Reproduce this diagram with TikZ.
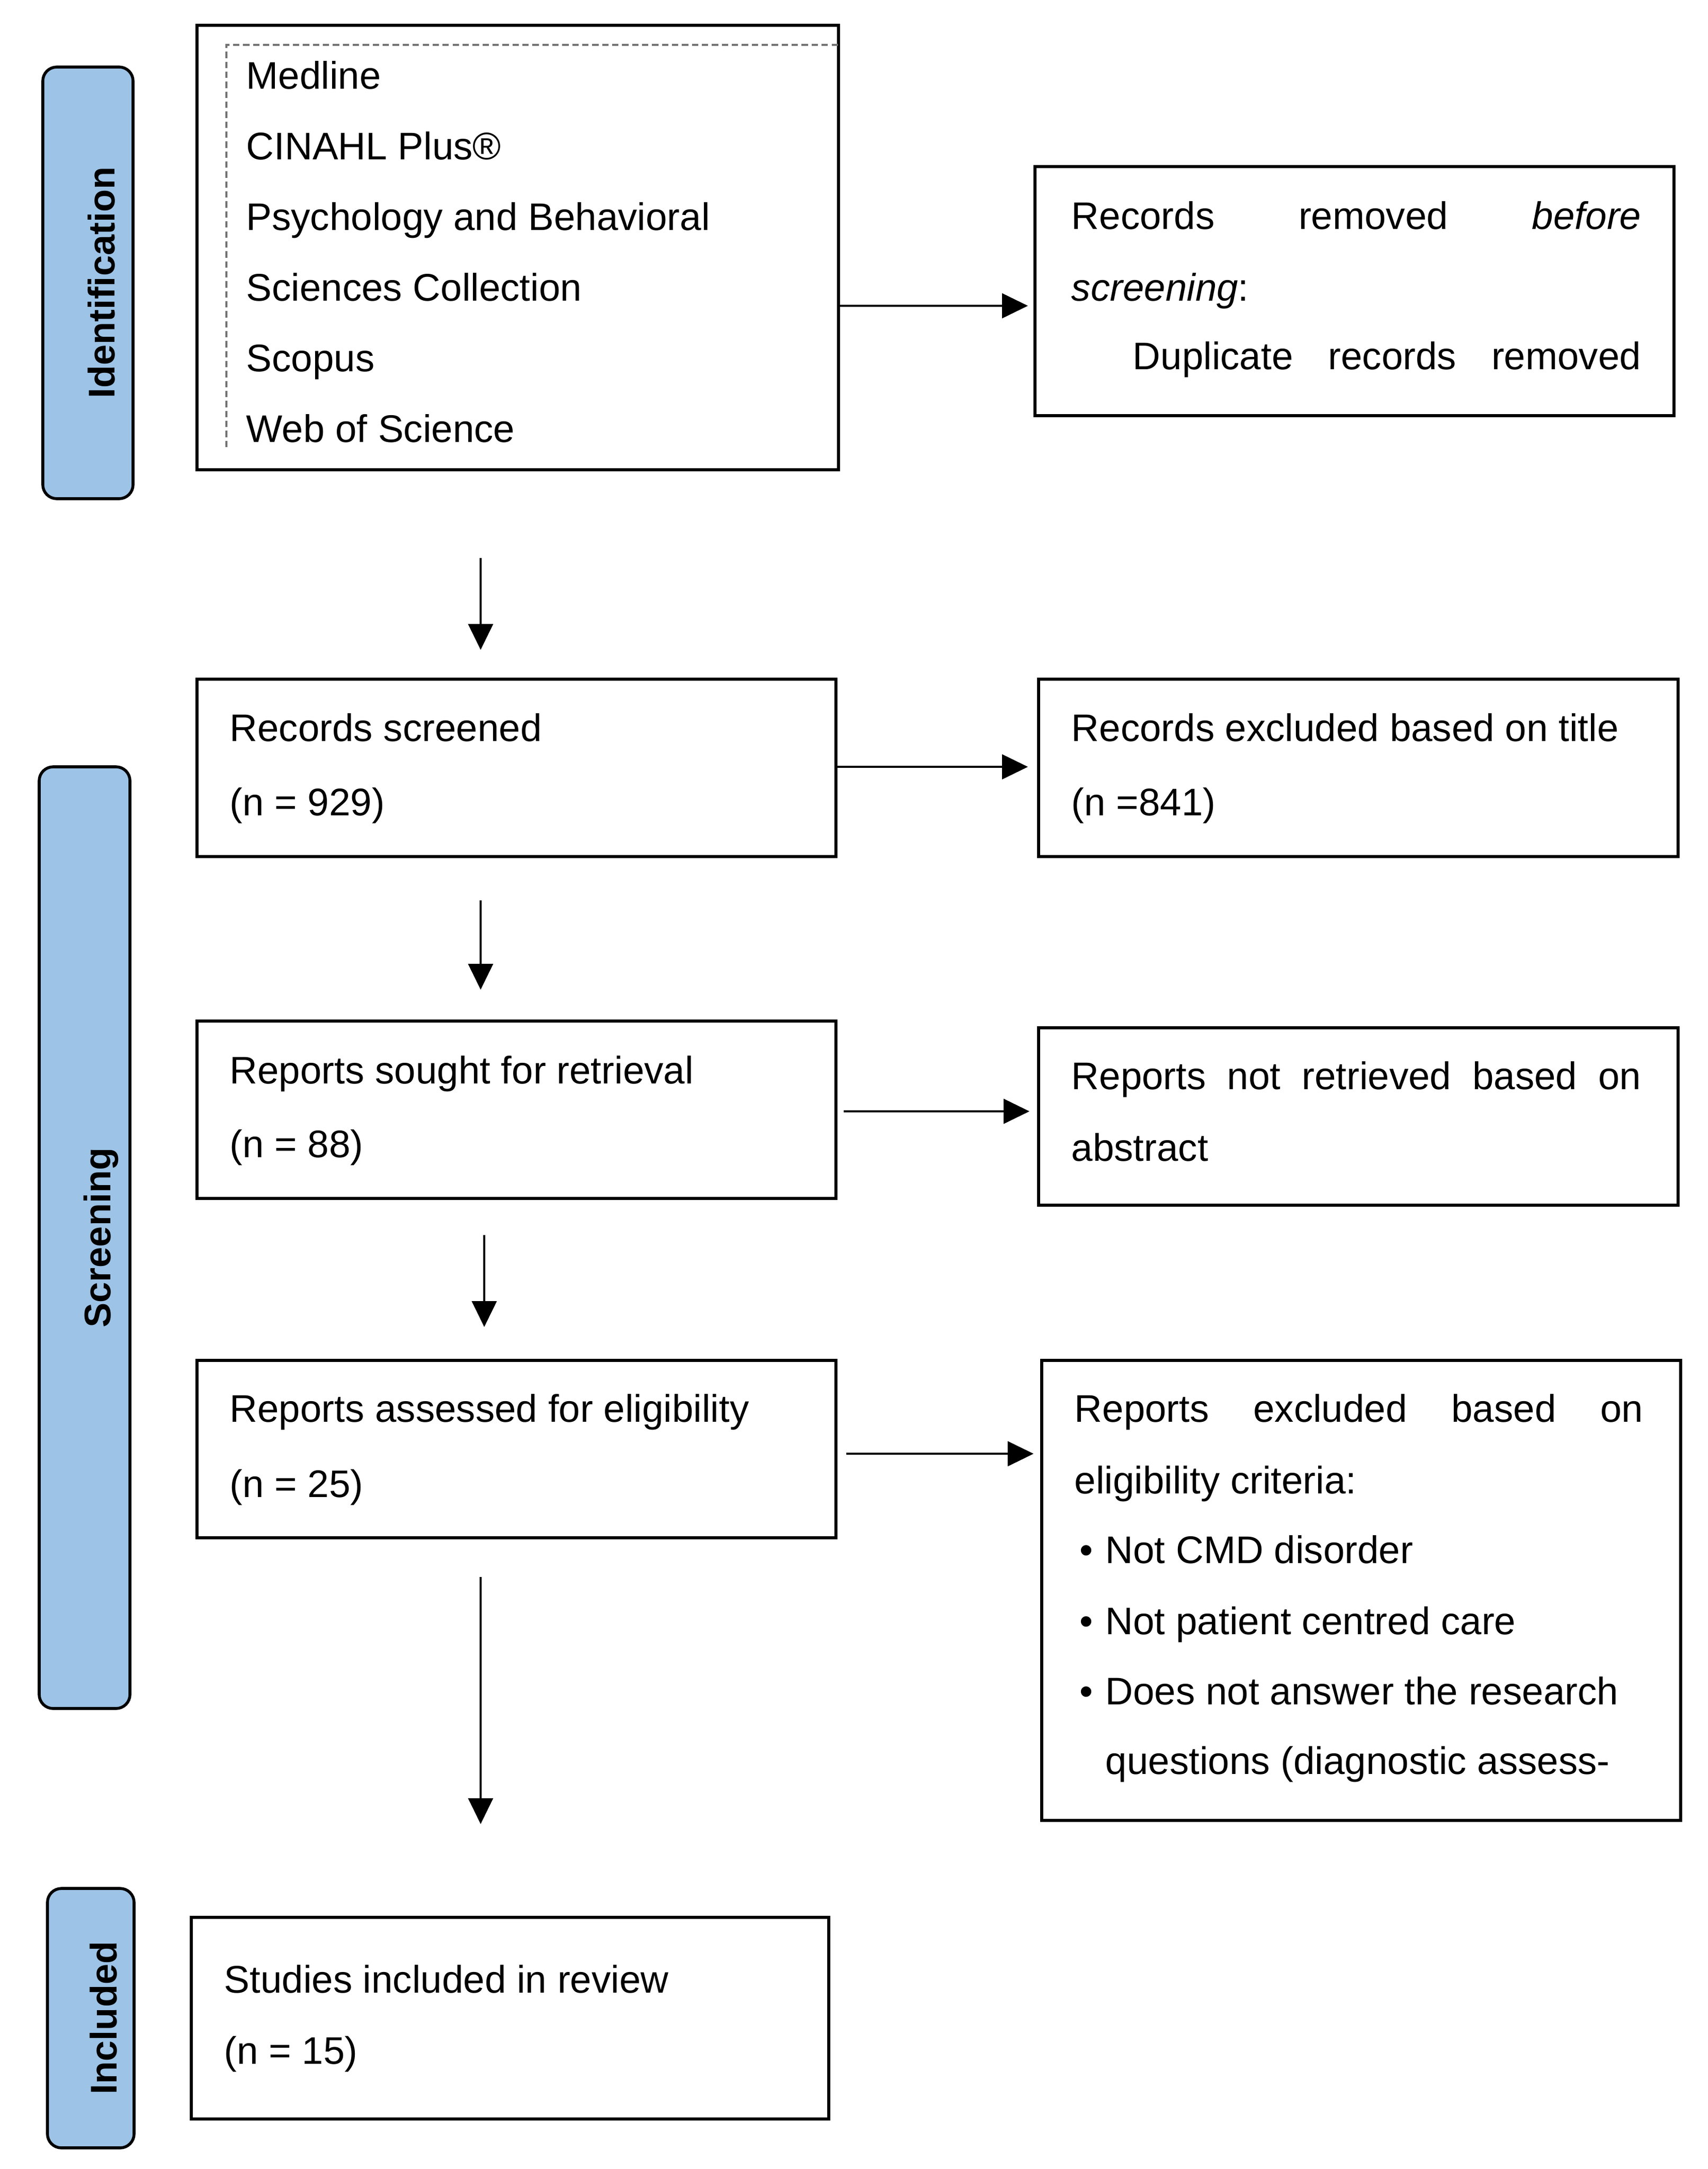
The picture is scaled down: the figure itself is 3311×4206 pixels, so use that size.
\documentclass[tikz,border=0pt]{standalone}
\usepackage{fontspec}
\setmainfont{Liberation Sans}
\usetikzlibrary{arrows.meta,fit}
\definecolor{lblue}{HTML}{9DC3E6}
\begin{document}
\begin{tikzpicture}[x=0.01cm,y=-0.01cm,
  box/.style={draw,line width=1.6pt,rectangle,inner sep=0pt},
  lbl/.style={draw,line width=1.6pt,fill=lblue,rounded corners=0.27cm,inner sep=0pt},
  txt/.style={anchor=base west,inner sep=0pt,font=\fontsize{21.2}{25}\selectfont},
  ltxt/.style={anchor=base,rotate=90,inner sep=0pt,font=\bfseries\fontsize{20.5}{25}\selectfont},
  arr/.style={line width=1pt,-{Triangle[length=0.5cm,width=0.48cm]}},
  dsh/.style={draw=black!55,line width=1pt,dash pattern=on 3.5pt off 2pt}]
\useasboundingbox (0,0) rectangle (3311,4206);
% stage labels
\node[lbl,fit={(83,130) (258,967)}] (lid) {};
\node[ltxt] (lidt) at (222,548) {Identification};
\node[lbl,fit={(76,1487) (252,3313)}] (lsc) {};
\node[ltxt] (lsct) at (214,2400) {Screening};
\node[lbl,fit={(92,3662) (260,4165)}] (lin) {};
\node[ltxt] (lint) at (226,3913) {Included};
% boxes
\node[box,fit={(382,49) (1626,911)}] (db) {};
\node[box,fit={(2007,323) (3246,806)}] (rem) {};
\node[box,fit={(382,1317) (1621,1661)}] (scr) {};
\node[box,fit={(2014,1317) (3254,1661)}] (ttl) {};
\node[box,fit={(382,1980) (1621,2324)}] (sgt) {};
\node[box,fit={(2014,1993) (3254,2337)}] (nrt) {};
\node[box,fit={(382,2638) (1621,2982)}] (ass) {};
\node[box,fit={(2020,2638) (3259,3530)}] (exc) {};
\node[box,fit={(371,3718) (1607,4109)}] (inc) {};
% dashed inner frame of the database box
\coordinate (dtl) at (439,87);
\coordinate (dbl) at (439,867);
\draw[dsh] (dbl) -- (dtl) -- (db.east |- dtl);
% database text
\node[txt] (t11) at (477,173) {Medline};
\node[txt] (t12) at (477,310) {CINAHL Plus®};
\node[txt] (t13) at (477,447) {Psychology and Behavioral};
\node[txt] (t14) at (477,583) {Sciences Collection};
\node[txt] (t15) at (477,720) {Scopus};
\node[txt] (t16) at (477,857) {Web of Science};
% removed
\node[txt] (t21) at (2077,445) {\makebox[11.04cm][s]{Records removed \textit{before}}};
\node[txt] (t22) at (2077,583) {\textit{screening}:};
\node[txt] (t23) at (2196,716) {\makebox[9.85cm][s]{Duplicate records removed}};
% screened
\node[txt] (t31) at (445,1437) {Records screened};
\node[txt] (t32) at (445,1581) {(n = 929)};
\node[txt] (t41) at (2077,1437) {Records excluded based on title};
\node[txt] (t42) at (2077,1581) {(n =841)};
% sought
\node[txt] (t51) at (445,2101) {Reports sought for retrieval};
\node[txt] (t52) at (445,2244) {(n = 88)};
\node[txt] (t61) at (2077,2112) {\makebox[11.04cm][s]{Reports not retrieved based on}};
\node[txt] (t62) at (2077,2251) {abstract};
% assessed
\node[txt] (t71) at (445,2757) {Reports assessed for eligibility};
\node[txt] (t72) at (445,2903) {(n = 25)};
\node[txt] (t81) at (2083,2757) {\makebox[11.02cm][s]{Reports excluded based on}};
\node[txt] (t82) at (2083,2896) {eligibility criteria:};
\node[txt] (t83) at (2093,3031) {\makebox[0.5cm][l]{•}Not CMD disorder};
\node[txt] (t84) at (2093,3169) {\makebox[0.5cm][l]{•}Not patient centred care};
\node[txt] (t85) at (2093,3305) {\makebox[0.5cm][l]{•}Does not answer the research};
\node[txt] (t86) at (2143,3440) {questions (diagnostic assess-};
% included
\node[txt] (t91) at (434,3864) {Studies included in review};
\node[txt] (t92) at (434,4002) {(n = 15)};
% connectors
\coordinate (xa) at (932,0);
\coordinate (xb) at (939,0);
\coordinate (ya) at (0,593);
\coordinate (yb) at (0,1487);
\coordinate (yc) at (0,2155);
\coordinate (yd) at (0,2819);
\draw[arr,shorten >=0.11cm] (db.east |- ya) -- (rem.west |- ya);
\draw[arr,shorten >=0.18cm] (scr.east |- yb) -- (ttl.west |- yb);
\draw[arr,shorten <=0.12cm,shorten >=0.15cm] (sgt.east |- yc) -- (nrt.west |- yc);
\draw[arr,shorten <=0.17cm,shorten >=0.13cm] (ass.east |- yd) -- (exc.west |- yd);
\draw[arr,shorten <=1.68cm,shorten >=0.54cm] (db.south -| xa) -- (scr.north -| xa);
\draw[arr,shorten <=0.82cm,shorten >=0.58cm] (scr.south -| xa) -- (sgt.north -| xa);
\draw[arr,shorten <=0.68cm,shorten >=0.62cm] (sgt.south -| xb) -- (ass.north -| xb);
\draw[arr,shorten <=0.73cm,shorten >=1.78cm] (ass.south -| xa) -- (inc.north -| xa);
\end{tikzpicture}
\end{document}
